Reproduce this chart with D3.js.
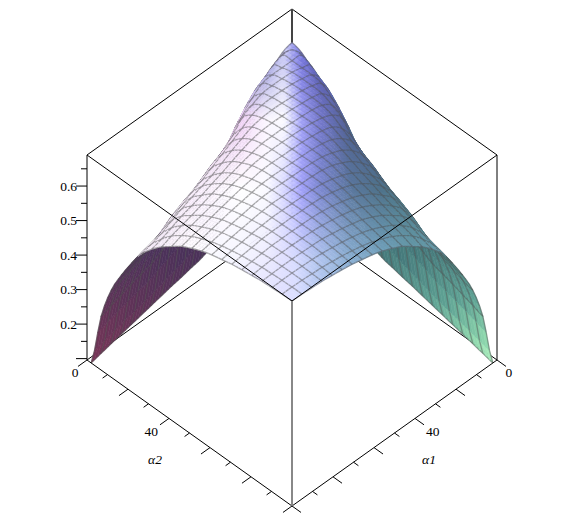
<!DOCTYPE html>
<html>
<head>
<meta charset="utf-8">
<script src="https://cdn.jsdelivr.net/npm/d3@7"></script>
<style>
    body { margin: 0; background: #fff; }
    text { font-family: "Liberation Serif", serif; font-size: 13.5px; fill: #000; }
</style>
</head>
<body>
<div id="chart"></div>
<script>
// grid of the surface, same for both angles
var alpha = [2, 6.9, 11.8, 16.7, 21.6, 26.5, 31.4, 36.3, 41.2, 46.1, 51, 55.9, 60.8, 65.7, 70.6, 75.5, 80.4, 85.3, 90.2, 95.1, 100];

// surface height, lower triangle (it is symmetric)
var heights = [
    [.610],
    [.600, .630],
    [.570, .635, .640],
    [.510, .622, .640, .648],
    [.440, .598, .640, .650, .655],
    [.370, .570, .635, .650, .657, .660],
    [.310, .535, .612, .648, .658, .662, .665],
    [.250, .495, .580, .635, .656, .663, .666, .668],
    [.190, .450, .540, .618, .648, .661, .667, .670, .672],
    [.172, .410, .515, .583, .630, .655, .665, .670, .673, .674],
    [.165, .385, .495, .560, .612, .642, .660, .669, .673, .675, .676],
    [.158, .365, .475, .545, .595, .628, .650, .663, .672, .676, .677, .678],
    [.152, .345, .455, .525, .578, .612, .638, .655, .668, .675, .678, .679, .680],
    [.145, .330, .440, .507, .561, .597, .625, .646, .660, .670, .677, .680, .681, .682],
    [.138, .316, .426, .494, .547, .586, .614, .636, .653, .665, .673, .679, .682, .683, .684],
    [.131, .300, .410, .478, .530, .575, .602, .627, .644, .658, .667, .675, .680, .683, .684, .685],
    [.124, .292, .395, .455, .510, .562, .592, .616, .635, .651, .662, .670, .676, .681, .684, .685, .686],
    [.117, .283, .380, .440, .495, .548, .583, .606, .627, .643, .656, .665, .672, .678, .683, .685, .686, .687],
    [.110, .273, .368, .428, .485, .532, .570, .597, .619, .635, .649, .660, .668, .674, .679, .683, .686, .687, .688],
    [.103, .263, .357, .420, .477, .522, .558, .588, .610, .628, .642, .654, .663, .670, .676, .680, .684, .686, .688, .689],
    [.096, .252, .348, .412, .467, .515, .549, .577, .599, .620, .635, .648, .658, .665, .672, .677, .681, .685, .687, .689, .690]
];

var zMajor = [0.1, 0.2, 0.3, 0.4, 0.5, 0.6];
var zMinor = [0.15, 0.25, 0.35, 0.45, 0.55, 0.65];
var zLabels = ["", "0.2", "0.3", "0.4", "0.5", "0.6"];
var alphaTicks = [0, 10, 20, 30, 40, 50, 60, 70, 80, 90, 100];
var alphaLabels = [0, 40];

// colours of the lit surface, by distance from the centre line and by height on the page
var shadeDx = [-200, -100, -50, -25, -8, 3, 10, 28, 58, 88, 118, 200];
var shadeY = [60, 120, 190, 260, 310];
var shadeRows = [
    ["#8080d0", "#8080d0", "#9090d8", "#a0a0e0", "#d0d0f6", "#9898ec", "#7878dc", "#5558a8", "#505a90", "#505a90", "#505a90", "#505a90"],
    ["#e8c8ec", "#e8c8ec", "#f5d8fa", "#fbf6ff", "#fcfcff", "#c8c8fc", "#a0a0f4", "#7478cc", "#4f5f90", "#4c5c88", "#4c5c88", "#4c5c88"],
    ["#e8d0f0", "#fbf0ff", "#ffffff", "#fafaff", "#d8d8ff", "#b8b8ff", "#a0a0f8", "#7c88d0", "#5c78a0", "#50738c", "#4c7886", "#4c8488"],
    ["#f0dcf4", "#ffffff", "#f4f4ff", "#ecebff", "#e0e0ff", "#d8dcff", "#ccd4fb", "#b0c4ee", "#8aaed2", "#78a8c4", "#6ca0b0", "#6ca0b0"],
    ["#e0e0ff", "#e0e0ff", "#e0e0ff", "#e0e0ff", "#e0e0ff", "#dde0ff", "#d4dcff", "#b8ccf0", "#90b4d4", "#78a8c4", "#6ca0b0", "#6ca0b0"]
];
var wallY = [250, 300, 340, 362];
var wallLeft = ["#4b325a", "#5c3358", "#6f3558", "#7a3558"];
var wallRight = ["#467a7c", "#5fa294", "#8fd8ae", "#b0f0c0"];

var width = 584, height = 515;
var cx = 292, backY = 214;

var sideX = d3.scaleLinear().domain([0, 100]).range([0, 205]);
var sideY = d3.scaleLinear().domain([0, 100]).range([0, 146]);
var zScale = d3.scaleLinear().domain([0.096, 0.69]).range([0, 205]);

var rowScales = shadeRows.map(function(row) {
    return d3.scaleLinear().domain(shadeDx).range(row).clamp(true);
});
var wallLeftColor = d3.scaleLinear().domain(wallY).range(wallLeft).clamp(true);
var wallRightColor = d3.scaleLinear().domain(wallY).range(wallRight).clamp(true);

function litColor(x, y) {
    var dx = x - cx;
    var r = d3.bisect(shadeY, y) - 1;
    r = Math.max(0, Math.min(r, shadeY.length - 2));
    var t = Math.max(0, Math.min((y - shadeY[r]) / (shadeY[r + 1] - shadeY[r]), 1));
    return d3.interpolateRgb(rowScales[r](dx), rowScales[r + 1](dx))(t);
}

function px(a1, a2) {
    return cx + sideX(a2) - sideX(a1);
}

function py(a1, a2, z) {
    return backY + sideY(a1) + sideY(a2) - zScale(z);
}

function zAt(i, j) {
    var last = alpha.length - 1;
    i = Math.max(0, Math.min(i, last));
    j = Math.max(0, Math.min(j, last));
    return i >= j ? heights[i][j] : heights[j][i];
}

function rom(p0, p1, p2, p3, t) {
    return 0.5 * (2 * p1 + (p2 - p0) * t + (2 * p0 - 5 * p1 + 4 * p2 - p3) * t * t + (3 * p1 - p0 - 3 * p2 + p3) * t * t * t);
}

// smooth position between the knots, only to draw the mesh without kinks
var steps = 3;

function fine(I, J) {
    var i = Math.min(Math.floor(I / steps), alpha.length - 2), u = I / steps - i;
    var j = Math.min(Math.floor(J / steps), alpha.length - 2), v = J / steps - j;
    var rows = [-1, 0, 1, 2].map(function(d) {
        return rom(zAt(i + d, j - 1), zAt(i + d, j), zAt(i + d, j + 1), zAt(i + d, j + 2), v);
    });
    var z = rom(rows[0], rows[1], rows[2], rows[3], u);
    var a1 = alpha[i] + (alpha[i + 1] - alpha[i]) * u;
    var a2 = alpha[j] + (alpha[j + 1] - alpha[j]) * v;
    return [px(a1, a2), py(a1, a2, z)];
}

var svg = d3.select("#chart")
    .append("svg")
    .attr("width", width)
    .attr("height", height)
    .style("display", "block");

var line = d3.line();

function addLine(a, b, color, w) {
    svg.append("path")
        .attr("d", line([a, b]))
        .attr("fill", "none")
        .attr("stroke", color)
        .attr("stroke-width", w);
}

var zLo = zScale.domain()[0], zHi = zScale.domain()[1];

function corner(a1, a2, z) {
    return [px(a1, a2), py(a1, a2, z)];
}

// box parts behind the surface
addLine(corner(100, 0, zLo), corner(0, 0, zLo), "#000", 1);
addLine(corner(0, 100, zLo), corner(0, 0, zLo), "#000", 1);
addLine(corner(0, 0, zHi), corner(100, 0, zHi), "#000", 1);
addLine(corner(0, 0, zHi), corner(0, 100, zHi), "#000", 1);
addLine(corner(0, 0, zLo), corner(0, 0, zHi), "#444", 2);
addLine(corner(100, 0, zLo), corner(100, 0, zHi), "#000", 1);
addLine(corner(0, 100, zLo), corner(0, 100, zHi), "#000", 1);

// surface, far patches first
var n = (alpha.length - 1) * steps;
var points = d3.range(n + 1).map(function(I) {
    return d3.range(n + 1).map(function(J) {
        return fine(I, J);
    });
});

var patches = [];
d3.range(n).forEach(function(I) {
    d3.range(n).forEach(function(J) {
        patches.push([I, J]);
    });
});
patches.sort(function(p, q) {
    return (p[0] + p[1]) - (q[0] + q[1]);
});

var surface = svg.append("g");

function meshLine(a, b) {
    surface.append("path")
        .attr("d", line([a, b]))
        .attr("fill", "none")
        .attr("stroke", "#505050")
        .attr("stroke-opacity", 0.49)
        .attr("stroke-width", 1.3);
}

patches.forEach(function(c) {
    var I = c[0], J = c[1];
    var p00 = points[I][J], p10 = points[I + 1][J], p01 = points[I][J + 1], p11 = points[I + 1][J + 1];

    var mx = (p00[0] + p10[0] + p01[0] + p11[0]) / 4;
    var my = (p00[1] + p10[1] + p01[1] + p11[1]) / 4;
    var cross = (p11[0] - p00[0]) * (p01[1] - p10[1]) - (p11[1] - p00[1]) * (p01[0] - p10[0]);

    var shade;
    if (cross < 0) {
        shade = litColor(mx, my);
    } else {
        shade = mx < cx ? wallLeftColor(my) : wallRightColor(my);
    }

    surface.append("path")
        .attr("d", line([p00, p10, p11, p01]) + "Z")
        .attr("fill", shade)
        .attr("stroke", shade)
        .attr("stroke-width", 0.6);

    if (J % steps === 0) {
        meshLine(p00, p10);
    }
    if (I % steps === 0) {
        meshLine(p00, p01);
    }
    if (I === n - 1) {
        meshLine(p10, p11);
    }
    if (J === n - 1) {
        meshLine(p01, p11);
    }
});

// box parts in front of the surface
addLine(corner(100, 0, zHi), corner(100, 100, zHi), "#000", 1);
addLine(corner(0, 100, zHi), corner(100, 100, zHi), "#000", 1);
addLine(corner(100, 0, zLo), corner(100, 100, zLo), "#000", 1);
addLine(corner(0, 100, zLo), corner(100, 100, zLo), "#000", 1);
addLine(corner(100, 100, zLo), corner(100, 100, zHi), "#888", 2);

// ticks on the two angle axes
alphaTicks.forEach(function(t) {
    var len = t % 20 === 0 ? 4.4 : 2.4;
    addLine(corner(100, t, zLo), corner(100 + len, t, zLo), "#000", 1);
    addLine(corner(t, 100, zLo), corner(t, 100 + len, zLo), "#000", 1);
});

alphaLabels.forEach(function(t) {
    var gap = t === 0 ? 5.85 : 8.6;
    var drop = t === 0 ? 8.5 : 5;
    var p = corner(100 + gap, t, zLo);
    svg.append("text")
        .attr("x", p[0])
        .attr("y", p[1] + drop)
        .attr("text-anchor", "middle")
        .text(t);
    p = corner(t, 100 + gap, zLo);
    svg.append("text")
        .attr("x", p[0])
        .attr("y", p[1] + drop)
        .attr("text-anchor", "middle")
        .text(t);
});

// height axis on the left upright
var zx = px(100, 0);
zMajor.forEach(function(z, i) {
    var y = py(100, 0, z);
    addLine([zx - 11, y], [zx, y], "#000", 1);
    svg.append("text")
        .attr("x", zx - 10)
        .attr("y", y + 4.5)
        .attr("text-anchor", "end")
        .text(zLabels[i]);
});
zMinor.forEach(function(z) {
    var y = py(100, 0, z);
    addLine([zx - 6, y], [zx, y], "#000", 1);
});

svg.append("text")
    .attr("x", 155)
    .attr("y", 464)
    .attr("text-anchor", "middle")
    .style("font-style", "italic")
    .text("\u03b12");
svg.append("text")
    .attr("x", 429)
    .attr("y", 464)
    .attr("text-anchor", "middle")
    .style("font-style", "italic")
    .text("\u03b11");
</script>
</body>
</html>
